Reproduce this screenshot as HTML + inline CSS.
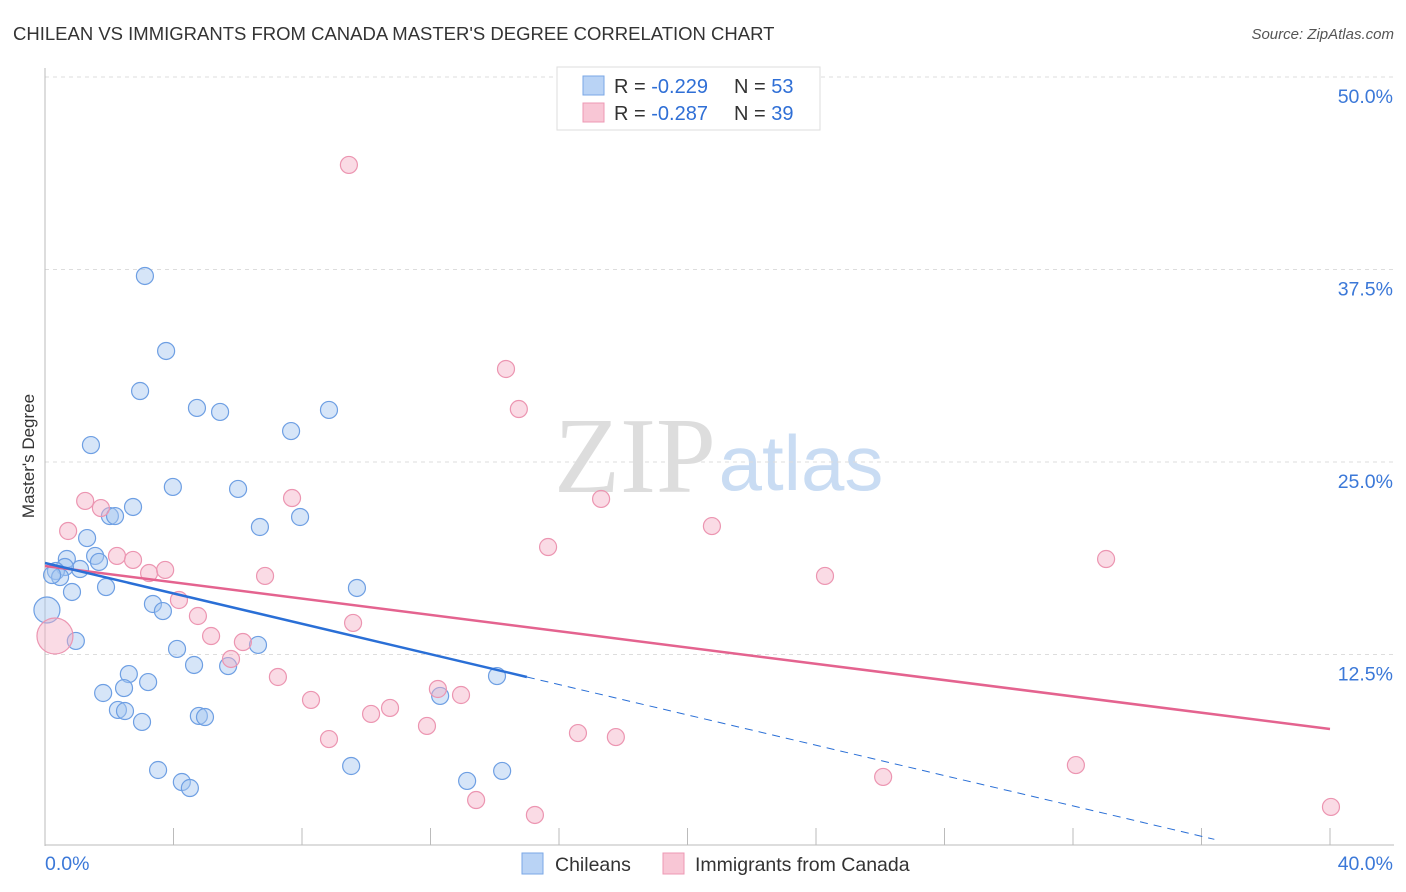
<!DOCTYPE html>
<html><head><meta charset="utf-8"><style>
body{margin:0;background:#fff;font-family:"Liberation Sans",sans-serif;}
#wrap{position:relative;width:1406px;height:892px;overflow:hidden;}
</style></head><body>
<div id="wrap">
<svg id="chart" width="1406" height="892" xmlns="http://www.w3.org/2000/svg">
<text x="13" y="40" font-size="18.5" fill="#333">CHILEAN VS IMMIGRANTS FROM CANADA MASTER'S DEGREE CORRELATION CHART</text>
<text x="1394" y="39" font-size="15" fill="#555" font-style="italic" text-anchor="end">Source: ZipAtlas.com</text>
<g>
<text x="635" y="492" font-family="Liberation Serif,serif" font-size="108" fill="#ddd" text-anchor="middle">ZIP</text>
<text x="801" y="490" font-size="78" fill="#c9dcf3" text-anchor="middle">atlas</text>
</g>
<g id="grid"></g>
<g id="axes"></g>
<g id="marks"></g>
<text transform="translate(34,456) rotate(-90)" font-size="17" fill="#333" text-anchor="middle">Master's Degree</text>
<g>
<rect x="557" y="67" width="263" height="63" fill="#fff" stroke="#ddd"/>
<rect x="583" y="76" width="21" height="19" fill="#b9d3f5" stroke="#7aa7e6"/>
<rect x="583" y="103" width="21" height="19" fill="#f8c6d5" stroke="#ee98b4"/>
<text x="614" y="93" font-size="20" fill="#333">R = <tspan fill="#2f6fd6">-0.229</tspan><tspan x="734">N = </tspan><tspan fill="#2f6fd6">53</tspan></text>
<text x="614" y="120" font-size="20" fill="#333">R = <tspan fill="#2f6fd6">-0.287</tspan><tspan x="734">N = </tspan><tspan fill="#2f6fd6">39</tspan></text>
</g>
<g>
<rect x="522" y="853" width="21" height="21" fill="#b9d3f5" stroke="#7aa7e6"/>
<text x="555" y="871" font-size="19.5" fill="#333">Chileans</text>
<rect x="663" y="853" width="21" height="21" fill="#f8c6d5" stroke="#ee98b4"/>
<text x="695" y="871" font-size="19.5" fill="#333">Immigrants from Canada</text>
</g>
</svg>
</div>
<script>
const blueX=[3.11,3.77,2.96,4.73,5.45,8.84,7.66,1.43,3.98,6.01,2.74,2.02,2.18,7.94,6.69,1.31,0.68,1.56,1.68,1.09,0.62,0.34,0.47,0.22,1.90,0.84,9.71,3.36,3.67,0.06,0.96,6.63,4.11,2.61,4.64,5.70,3.21,2.46,1.81,2.27,2.49,3.02,4.79,4.98,12.30,14.07,9.53,3.52,4.26,4.51,13.14,14.23];
const blueY=[37.08,32.21,29.61,28.51,28.25,28.38,27.01,26.10,23.38,23.25,22.08,21.49,21.49,21.43,20.78,20.06,18.70,18.90,18.51,18.05,18.18,17.92,17.53,17.66,16.88,16.56,16.82,15.78,15.32,15.39,13.38,13.12,12.86,11.23,11.82,11.75,10.71,10.32,10.00,8.90,8.83,8.12,8.51,8.44,9.81,11.10,5.26,5.00,4.22,3.83,4.29,4.94];
const pinkX=[9.46,14.35,14.75,1.25,1.74,7.69,17.31,0.72,20.76,15.66,2.24,2.74,3.24,3.74,6.85,24.28,33.03,4.17,4.76,5.17,6.16,5.79,9.59,0.31,7.25,8.28,12.23,12.95,10.74,10.15,11.89,8.84,16.59,17.77,26.09,32.09,13.42,15.25,40.03];
const pinkY=[44.29,31.04,28.44,22.47,22.01,22.66,22.60,20.52,20.84,19.48,18.90,18.64,17.79,17.99,17.60,17.60,18.70,16.04,15.00,13.70,13.31,12.21,14.55,13.70,11.04,9.55,10.26,9.87,9.03,8.64,7.86,7.01,7.40,7.14,4.55,5.32,3.05,2.08,2.60];
const bigBlue=[29];
const bigPink=[23];
const yTicks=[12.5,25,37.5,50];
const yTickLabels=["12.5%","25.0%","37.5%","50.0%"];
const xTicks=[4,8,12,16,20,24,28,32,36,40];
const blueTrend=[18.44,11.04,0.5];
const blueTrendX=[0,15,36.4];
const pinkTrend=[18.25,7.66];
const pinkTrendX=[0,40];

const NS="http://www.w3.org/2000/svg";
const sx=v=>45+v*32.125;
const sy=v=>847-v*15.4;
function mk(tag,attrs,parent){const e=document.createElementNS(NS,tag);for(const k in attrs)e.setAttribute(k,attrs[k]);parent.appendChild(e);return e;}
const grid=document.getElementById('grid'),axes=document.getElementById('axes'),marks=document.getElementById('marks');
yTicks.forEach((t,i)=>{
  const l=mk('line',{x1:45,x2:1394,y1:sy(t),y2:sy(t),stroke:'#ddd','stroke-dasharray':'4,4'},grid);
  
  
  const tx=mk('text',{x:1393,y:sy(t)+26,'font-size':19.5,fill:'#3b78d8','text-anchor':'end'},axes);
  tx.textContent=yTickLabels[i];
  
  
});
let a=mk('line',{x1:45,x2:45,y1:68,y2:846,stroke:'#bbb'},axes);


a=mk('line',{x1:45,x2:1394,y1:845,y2:845,stroke:'#bbb'},axes);


xTicks.forEach(t=>{
  const l=mk('line',{x1:sx(t),x2:sx(t),y1:828,y2:845,stroke:'#bbb'},axes);
  
  
});
let t=mk('text',{x:45,y:870,'font-size':19.5,fill:'#3b78d8'},axes);t.textContent='0.0%';


t=mk('text',{x:1393,y:870,'font-size':19.5,fill:'#3b78d8','text-anchor':'end'},axes);t.textContent='40.0%';



blueX.forEach((x,i)=>{
  const c=mk('circle',{cx:sx(x),cy:sy(blueY[i]),r:bigBlue.includes(i)?13:8.5,fill:'rgba(165,198,240,0.45)',stroke:'#6e9fe3','stroke-width':1.2},marks);
  
  
});
pinkX.forEach((x,i)=>{
  const c=mk('circle',{cx:sx(x),cy:sy(pinkY[i]),r:bigPink.includes(i)?18:8.5,fill:'rgba(245,175,198,0.45)',stroke:'#ec95b1','stroke-width':1.2},marks);
  
  
});
let ln=mk('line',{x1:sx(pinkTrendX[0]),y1:sy(pinkTrend[0]),x2:sx(pinkTrendX[1]),y2:sy(pinkTrend[1]),stroke:'#e4638f','stroke-width':2.5},marks);


ln=mk('line',{x1:sx(blueTrendX[0]),y1:sy(blueTrend[0]),x2:sx(blueTrendX[1]),y2:sy(blueTrend[1]),stroke:'#2a6fd6','stroke-width':2.5},marks);


ln=mk('line',{x1:sx(blueTrendX[1]),y1:sy(blueTrend[1]),x2:sx(blueTrendX[2]),y2:sy(blueTrend[2]),stroke:'#2a6fd6','stroke-width':1,'stroke-dasharray':'8,6'},marks);


</script>
</body></html>
